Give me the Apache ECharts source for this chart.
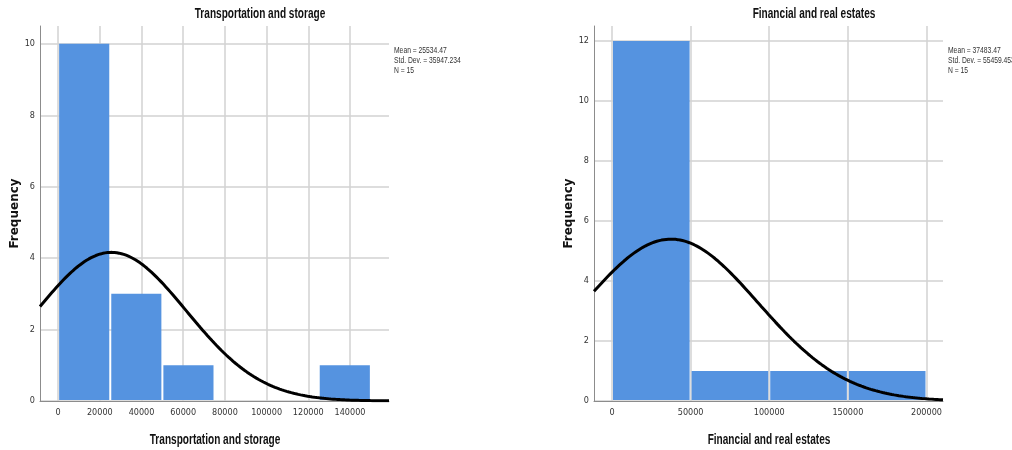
<!DOCTYPE html>
<html>
<head>
<meta charset="utf-8">
<script src="https://cdn.jsdelivr.net/npm/echarts@6/dist/echarts.min.js"></script>
<style>
  html, body { margin: 0; padding: 0; background: #ffffff; }
  #chart { width: 1012px; height: 450px; }
</style>
</head>
<body>
<div id="chart"></div>
<script>
// ---- Data: Transportation and storage ----
const transTitle = 'Transportation and storage';
const transBinStarts = [0, 25000, 50000, 75000, 100000, 125000];
const transBinEnds = [25000, 50000, 75000, 100000, 125000, 150000];
const transCounts = [10, 3, 1, 0, 0, 1];
const transXTicks = [0, 20000, 40000, 60000, 80000, 100000, 120000, 140000];
const transYTicks = [0, 2, 4, 6, 8, 10];
const transStats = { mean: 25534.47, sd: 35947.234, n: 15 };
const transStatsLines = ['Mean = 25534.47', 'Std. Dev. = 35947.234', 'N = 15'];

// ---- Data: Financial and real estates ----
const finTitle = 'Financial and real estates';
const finBinStarts = [0, 50000, 100000, 150000];
const finBinEnds = [50000, 100000, 150000, 200000];
const finCounts = [12, 1, 1, 1];
const finXTicks = [0, 50000, 100000, 150000, 200000];
const finYTicks = [0, 2, 4, 6, 8, 10, 12];
const finStats = { mean: 37483.47, sd: 55459.453, n: 15 };
const finStatsLines = ['Mean = 37483.47', 'Std. Dev. = 55459.453', 'N = 15'];

// axis extents
const transXRange = [-8700, 158700];
const transYMax = 10.5;
const finXRange = [-11440, 210500];
const finYMax = 12.5;

// Normal curve defined by the displayed Mean / Std. Dev. / N, scaled by bin width
function normalCurve(stats, binWidth, range, steps) {
  const pts = [];
  const k = stats.n * binWidth / (stats.sd * Math.sqrt(2 * Math.PI));
  for (let i = 0; i <= steps; i++) {
    const x = range[0] + (range[1] - range[0]) * i / steps;
    const z = (x - stats.mean) / stats.sd;
    pts.push([x, k * Math.exp(-0.5 * z * z)]);
  }
  return pts;
}

const narrow = '"DejaVu Sans Condensed", "Liberation Sans Narrow", "Liberation Sans", Arial, sans-serif';
const sans = '"Liberation Sans", Arial, sans-serif';
const barColor = '#5593e0';
const gridColor = '#d2d2d2';
const axisColor = '#8c8c8c';

const chart = echarts.init(document.getElementById('chart'), null, { renderer: 'canvas' });

function binData(starts, ends, counts) {
  return starts.map((s, i) => [s, ends[i], counts[i]]).filter(d => d[2] > 0);
}

function renderBar(params, api) {
  const x0 = api.value(0), x1 = api.value(1), c = api.value(2);
  const p0 = api.coord([x0, c]);
  const p1 = api.coord([x1, 0]);
  return {
    type: 'rect',
    shape: { x: p0[0] + 1, y: p0[1], width: p1[0] - p0[0] - 2, height: p1[1] - p0[1] - 1 },
    style: { fill: barColor }
  };
}

function xAxisCfg(idx, range, ticks) {
  return {
    type: 'value', gridIndex: idx, min: range[0], max: range[1],
    axisLine: { show: true, onZero: false, lineStyle: { color: axisColor, width: 1 } },
    axisTick: { show: false, customValues: ticks },
    axisLabel: { customValues: ticks, fontFamily: narrow, fontSize: 9, color: '#333', margin: 7,
      formatter: v => String(v) },
    splitLine: { show: true, lineStyle: { color: gridColor, width: 1.5 } }
  };
}

function yAxisCfg(idx, max, ticks) {
  return {
    type: 'value', gridIndex: idx, min: 0, max: max,
    name: 'Frequency', nameLocation: 'middle', nameGap: 10, nameRotate: 90,
    nameTextStyle: { fontFamily: '"DejaVu Sans", sans-serif', fontWeight: 'bold', fontSize: 12, color: '#111' },
    axisLine: { show: true, onZero: false, lineStyle: { color: axisColor, width: 1 } },
    axisTick: { show: false, customValues: ticks },
    axisLabel: { customValues: ticks, fontFamily: narrow, fontSize: 9, color: '#333', margin: 5,
      formatter: v => String(v) },
    splitLine: { show: true, lineStyle: { color: gridColor, width: 1.5 } }
  };
}

function statsGraphic(lines, left) {
  return lines.map((t, i) => ({
    type: 'text', x: left, y: 51 + i * 10, scaleX: 0.75, z: 10,
    style: { text: t, font: '9px ' + sans, fill: '#333', textVerticalAlign: 'middle' }
  }));
}

function boldLabel(text, cx, cy) {
  return {
    type: 'text', x: cx, y: cy, scaleX: 0.72, z: 10,
    style: { text: text, font: 'bold 14px ' + sans, fill: '#111',
      textAlign: 'center', textVerticalAlign: 'middle' }
  };
}

const option = {
  backgroundColor: '#ffffff',
  animation: false,
  grid: [
    { left: 40, top: 26, width: 349, height: 375, outerBoundsMode: 'none', containLabel: false },
    { left: 594, top: 26, width: 349, height: 375, outerBoundsMode: 'none', containLabel: false }
  ],
  xAxis: [
    xAxisCfg(0, transXRange, transXTicks),
    xAxisCfg(1, finXRange, finXTicks)
  ],
  yAxis: [
    yAxisCfg(0, transYMax, transYTicks),
    yAxisCfg(1, finYMax, finYTicks)
  ],
  graphic: [
    boldLabel(transTitle, 260, 14),
    boldLabel(finTitle, 814, 14),
    boldLabel(transTitle, 215, 440),
    boldLabel(finTitle, 769, 440)
  ].concat(statsGraphic(transStatsLines, 394), statsGraphic(finStatsLines, 948)),
  series: [
    { type: 'custom', xAxisIndex: 0, yAxisIndex: 0, renderItem: renderBar,
      encode: { x: [0, 1], y: 2 }, data: binData(transBinStarts, transBinEnds, transCounts), z: 2 },
    { type: 'line', xAxisIndex: 0, yAxisIndex: 0, showSymbol: false, smooth: false,
      lineStyle: { color: '#000', width: 3 }, data: normalCurve(transStats, 25000, transXRange, 300), z: 3 },
    { type: 'custom', xAxisIndex: 1, yAxisIndex: 1, renderItem: renderBar,
      encode: { x: [0, 1], y: 2 }, data: binData(finBinStarts, finBinEnds, finCounts), z: 2 },
    { type: 'line', xAxisIndex: 1, yAxisIndex: 1, showSymbol: false, smooth: false,
      lineStyle: { color: '#000', width: 3 }, data: normalCurve(finStats, 50000, finXRange, 300), z: 3 }
  ]
};
chart.setOption(option);
</script>
</body>
</html>
